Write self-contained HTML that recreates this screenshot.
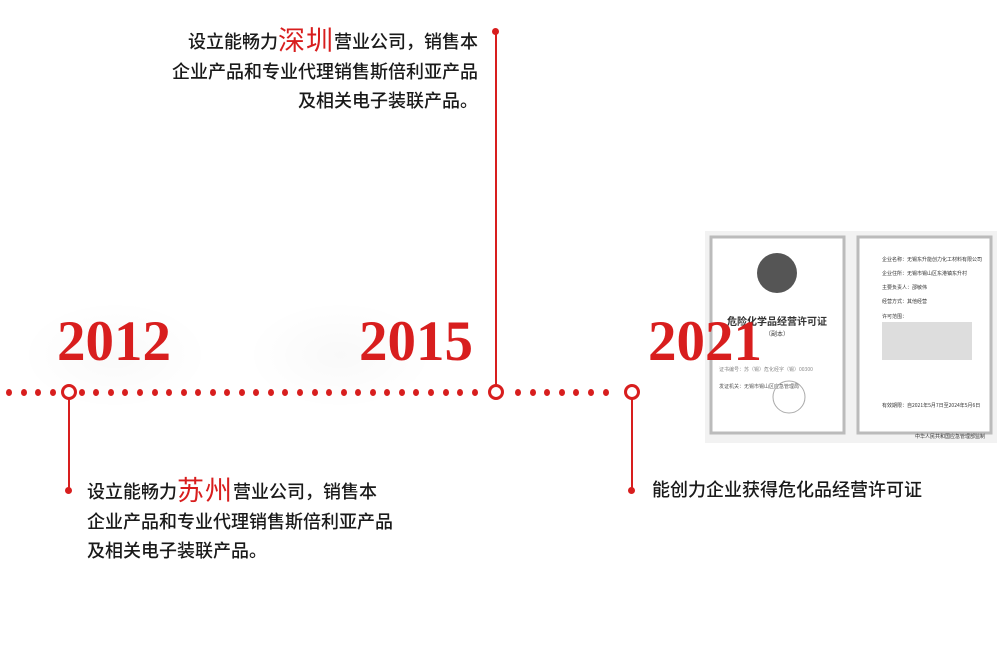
<!DOCTYPE html>
<html><head><meta charset="utf-8"><style>
body{margin:0;width:1005px;height:645px;background:#fff;position:relative;overflow:hidden;font-family:"Liberation Sans","Noto Sans CJK SC",sans-serif;}
.t{position:absolute;font-size:18px;font-weight:500;color:#1a1a1a;line-height:29.5px;white-space:nowrap}
.big{color:#d81e1e;font-size:27px;font-weight:400;letter-spacing:1px;vertical-align:-2px}
.yr{position:absolute;font-family:"Liberation Serif","Noto Serif CJK SC",serif;font-weight:bold;color:#d81e1e;font-size:57px;line-height:57px;}
.glow{position:absolute;border-radius:50%;background:radial-gradient(ellipse,rgba(0,0,0,0.025),rgba(0,0,0,0) 70%);}
.vl{position:absolute;width:2px;background:#d81e1e}
.dot{position:absolute;width:7px;height:7px;border-radius:50%;background:#d81e1e}
.ring{position:absolute;width:10px;height:10px;border:3px solid #d81e1e;border-radius:50%;background:#fff}
</style></head><body>
<div class="glow" style="left:20px;top:300px;width:190px;height:110px"></div>
<div class="glow" style="left:245px;top:300px;width:190px;height:110px"></div>
<div class="yr" style="left:57px;top:313px">2012</div>
<div class="yr" style="left:359px;top:313px">2015</div>

<div class="t" style="right:527px;top:27px;text-align:right">设立能畅力<span class="big">深圳</span>营业公司，销售本<br>企业产品和专业代理销售斯倍利亚产品<br>及相关电子装联产品。</div>
<div class="t" style="left:87px;top:477px">设立能畅力<span class="big">苏州</span>营业公司，销售本<br>企业产品和专业代理销售斯倍利亚产品<br>及相关电子装联产品。</div>
<div class="t" style="left:652px;top:476px">能创力企业获得危化品经营许可证</div>

<div id="dots"></div>
<div class="vl" style="left:495px;top:31px;height:355px"></div>
<div class="dot" style="left:492px;top:28px"></div>
<div class="vl" style="left:68px;top:398px;height:92px"></div>
<div class="dot" style="left:65px;top:487px"></div>
<div class="vl" style="left:631px;top:398px;height:92px"></div>
<div class="dot" style="left:628px;top:487px"></div>
<div class="ring" style="left:61px;top:384px"></div>
<div class="ring" style="left:488px;top:384px"></div>
<div class="ring" style="left:624px;top:384px"></div>

<svg style="position:absolute;left:705px;top:231px" width="292" height="212" viewBox="0 0 292 212">
<rect x="0" y="0" width="292" height="212" fill="#f2f2f2"/>
<rect x="6" y="6" width="133" height="196" fill="#fff" stroke="#bbb" stroke-width="3"/>
<rect x="153" y="6" width="133" height="196" fill="#fff" stroke="#bbb" stroke-width="3"/>
<circle cx="72" cy="42" r="20" fill="#555"/>
<text x="72" y="94" text-anchor="middle" font-size="10" font-weight="bold" fill="#333" font-family="Noto Sans CJK SC,sans-serif">危险化学品经营许可证</text>
<text x="72" y="105" text-anchor="middle" font-size="6" fill="#444" font-family="Noto Sans CJK SC,sans-serif">（副本）</text>
<text x="14" y="140" font-size="5" fill="#888" font-family="Noto Sans CJK SC,sans-serif">证书编号：苏（锡）危化经字（锡）00300</text>
<text x="14" y="157" font-size="5" fill="#555" font-family="Noto Sans CJK SC,sans-serif">发证机关：无锡市锡山区应急管理局</text>
<circle cx="84" cy="166" r="16" fill="none" stroke="#aaa"/>
<g font-size="5" fill="#333" font-family="Noto Sans CJK SC,sans-serif">
<text x="177" y="30">企业名称：无锡东升能创力化工材料有限公司</text>
<text x="177" y="44">企业住所：无锡市锡山区东港镇东升村</text>
<text x="177" y="58">主要负责人：邵敏伟</text>
<text x="177" y="72">经营方式：其他经营</text>
<text x="177" y="87">许可范围：</text>
<rect x="177" y="91" width="90" height="38" fill="#ddd"/>
<text x="177" y="176">有效期限：自2021年5月7日至2024年5月6日</text>
<text x="210" y="207">中华人民共和国应急管理部监制</text>
</g>
</svg>
<div class="yr" style="left:648px;top:313px">2021</div>
<script>
var d=document.getElementById('dots'),h='';
var xs=[];for(var x=9;x<=612;x+=14.55){xs.push(x);}
xs.forEach(function(x){if(Math.abs(x-69)<8||Math.abs(x-496)<8||Math.abs(x-632)<8)return;h+='<div class="dot" style="left:'+(x-3)+'px;top:389px;width:6px;height:7px"></div>';});
d.innerHTML=h;
</script>
</body></html>
